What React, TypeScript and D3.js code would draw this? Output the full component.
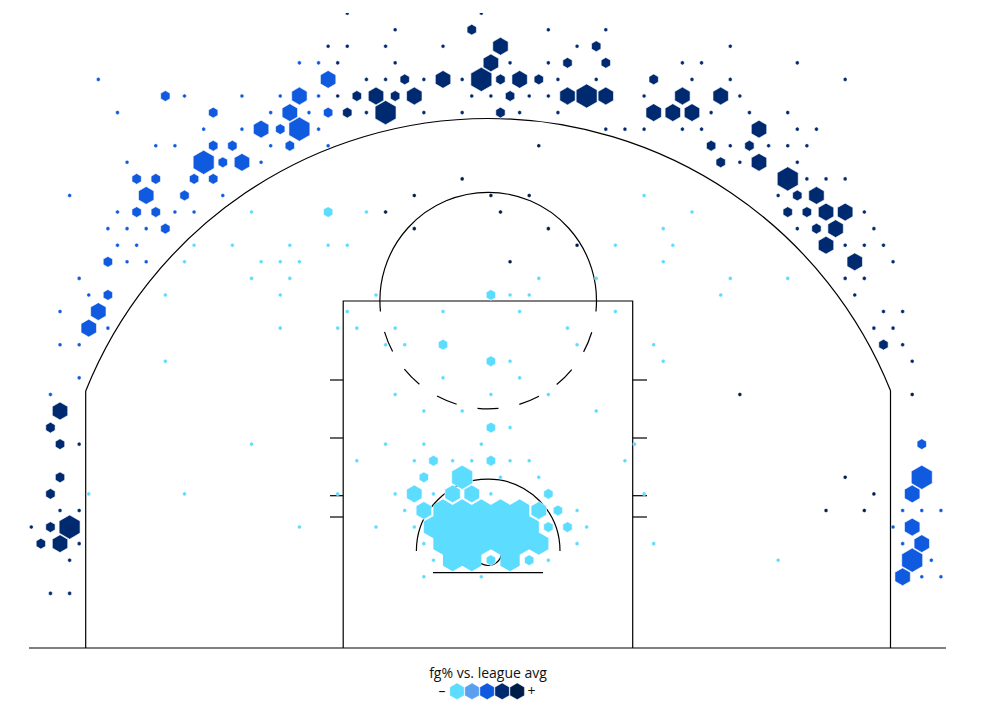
import React from "react";
import * as d3 from "d3";

type Bin = [number, number, number];

// each bin: [row, half-column, size class]
const cyanBlob: Bin[] = [
  [30,-5,5],[30,-3,5],[30,-1,5],[30,1,5],[30,3,5],
  [31,-6,5],[31,-4,5],[31,-2,5],[31,0,5],[31,2,5],[31,4,5],
  [32,-5,5],[32,-3,5],[32,-1,5],[32,1,5],[32,3,5],[32,5,5],
  [33,-4,5],[33,-2,5],[33,2,5],
];
const cyanBins: Bin[] = [
  [11,16,1],
  [12,-25,1],[12,-17,2],[12,-13,1],[12,21,1],
  [13,18,1],
  [14,-31,1],[14,-27,1],[14,-21,1],[14,-17,1],[14,-15,1],[14,13,1],[14,19,1],
  [15,-32,1],[15,-24,1],[15,-22,1],[15,-20,1],[15,18,1],
  [16,-25,1],[16,-21,1],[16,5,1],[16,11,1],[16,25,1],[16,31,1],
  [17,-34,1],[17,-22,1],[17,-12,1],[17,0,2],[17,2,1],[17,4,1],[17,24,1],
  [18,-15,1],[18,-5,1],[18,3,1],[18,13,1],
  [19,-22,1],[19,-16,1],[19,-14,1],[19,-10,1],[19,8,1],
  [20,-11,1],[20,-9,1],[20,-5,2],[20,9,1],[20,17,1],
  [21,-34,1],[21,0,2],[21,2,1],[21,18,1],
  [22,-5,1],[22,3,1],
  [23,-10,1],[23,0,1],[23,6,1],
  [24,-7,1],[24,-3,1],[24,11,1],
  [25,0,2],[25,2,1],
  [26,-25,1],[26,-11,1],[26,-7,1],[26,-1,1],[26,15,1],
  [27,-14,1],[27,-8,1],[27,-6,2],[27,-4,1],[27,-2,1],[27,0,2],[27,2,1],[27,4,1],[27,14,1],
  [28,-7,2],[28,-3,4],[28,1,1],[28,5,1],
  [29,-42,1],[29,-32,1],[29,-16,1],[29,-10,1],[29,-8,3],[29,-6,1],[29,-4,3],[29,-2,3],[29,0,1],[29,6,2],[29,16,1],
  [30,-9,1],[30,-7,3],[30,5,3],[30,7,2],[30,9,1],
  [31,-20,1],[31,-12,1],[31,-8,1],[31,6,2],[31,8,2],[31,10,1],
  [32,-7,1],[32,9,1],[32,17,1],
  [33,-6,1],[33,0,2],[33,4,2],[33,6,1],[33,30,1],
  [34,-7,1],[34,-1,1],
];
const blueBins: Bin[] = [
  [3,-20,1],[3,-18,1],
  [4,-41,1],[4,-17,3],
  [5,-34,2],[5,-32,1],[5,-26,1],[5,-22,1],[5,-20,3],[5,-18,1],
  [6,-39,1],[6,-29,2],[6,-23,1],[6,-21,3],[6,-19,1],[6,-17,2],
  [7,-30,1],[7,-26,1],[7,-24,3],[7,-22,2],[7,-20,4],[7,-18,1],
  [8,-35,1],[8,-33,1],[8,-29,2],[8,-27,2],[8,-23,1],[8,-21,2],[8,-17,1],
  [9,-38,1],[9,-30,4],[9,-28,2],[9,-26,3],[9,-24,1],
  [10,-37,2],[10,-35,2],[10,-31,2],[10,-29,2],
  [11,-44,1],[11,-36,3],[11,-32,2],[11,-28,1],
  [12,-39,1],[12,-37,2],[12,-35,2],[12,-33,1],[12,-31,1],
  [13,-40,1],[13,-38,1],[13,-36,1],[13,-34,2],
  [14,-39,1],[14,-37,1],
  [15,-40,2],[15,-38,1],[15,-36,1],
  [16,-43,1],
  [17,-42,1],[17,-40,2],
  [18,-45,1],[18,-41,3],
  [19,-42,3],[19,-40,1],
  [20,-45,1],[20,-43,1],
  [22,-43,1],
  [23,-46,1],
  [26,45,2],
  [28,45,4],
  [29,44,3],
  [30,43,1],[30,45,1],[30,47,1],
  [31,42,1],[31,44,3],
  [32,43,1],[32,45,3],
  [33,44,4],[33,46,1],
  [34,43,3],[34,45,1],[34,47,1],
];
const navyBins: Bin[] = [
  [0,-15,1],[0,-1,1],
  [1,-10,1],[1,-2,2],[1,6,1],[1,12,1],
  [2,-17,1],[2,-15,1],[2,-11,1],[2,-5,1],[2,1,3],[2,9,1],[2,11,2],[2,25,1],
  [3,-16,1],[3,-10,1],[3,0,3],[3,2,1],[3,6,1],[3,8,2],[3,12,2],[3,20,1],[3,22,1],[3,32,1],
  [4,-13,1],[4,-11,1],[4,-9,2],[4,-7,1],[4,-5,3],[4,-3,1],[4,-1,4],[4,1,2],[4,3,3],[4,5,2],[4,7,1],[4,11,1],[4,17,2],[4,21,1],[4,25,1],[4,37,1],
  [5,-16,1],[5,-14,2],[5,-12,3],[5,-10,2],[5,-8,3],[5,-2,1],[5,0,1],[5,2,2],[5,4,1],[5,6,1],[5,8,3],[5,10,4],[5,12,3],[5,16,1],[5,20,3],[5,24,3],[5,26,1],
  [6,-15,2],[6,-13,1],[6,-11,4],[6,-7,1],[6,-3,1],[6,1,2],[6,3,1],[6,7,1],[6,17,3],[6,19,3],[6,21,3],[6,23,1],[6,27,1],[6,31,1],
  [7,12,1],[7,14,1],[7,16,1],[7,20,1],[7,22,1],[7,28,3],[7,32,1],[7,34,1],
  [8,23,2],[8,25,1],[8,27,2],[8,29,1],[8,31,1],[8,33,1],
  [9,24,2],[9,26,1],[9,28,3],[9,32,1],
  [10,31,4],[10,33,1],[10,35,1],[10,37,1],
  [11,30,1],[11,32,2],[11,34,3],
  [12,31,2],[12,33,2],[12,35,3],[12,37,3],[12,39,1],
  [13,32,1],[13,34,2],[13,36,3],[13,40,1],
  [14,35,3],[14,37,1],[14,39,1],[14,41,1],
  [15,38,3],[15,42,1],
  [16,37,1],[16,39,1],
  [17,38,1],
  [18,41,1],[18,43,1],
  [19,40,1],[19,42,1],
  [20,41,2],[20,43,1],
  [21,44,1],
  [24,-45,3],
  [25,-46,2],
  [26,-45,2],[26,-43,1],
  [28,-45,2],
  [29,-46,2],
  [30,-45,1],[30,-43,1],
  [31,-48,1],[31,-46,2],[31,-44,4],
  [32,-47,2],[32,-45,3],[32,-43,1],
  [33,-44,1],
  [35,-46,1],[35,-44,1],
];
const darkBins: Bin[] = [
  [8,5,1],[10,-3,1],[11,-8,1],[11,0,1],[11,4,1],[12,-11,1],[12,1,1],
  [13,-8,1],[13,6,1],[14,9,1],[15,2,1],[23,26,1],[23,44,1],
  [28,37,1],[29,40,1],[30,35,1],[30,39,1],
];

const legendColors = ["#5cdcff", "#5b9ff0", "#0f5adf", "#002a6f", "#001d48"];
const legendSteps = [0, 1, 2, 3, 4];
const sizeClasses = [1, 2, 3, 4, 5];
const sizeRadii = [2.05, 5.4, 8.9, 12.1, 11.15];
const hashY = [380, 438, 495.7, 517];

const width = 988;
const height = 711;
const xScale = d3.scaleLinear().domain([0, 10]).range([490.9, 586.65]);
const yScale = d3.scaleLinear().domain([0, 34]).range([13.1, 576.8]);
const rScale = d3.scaleOrdinal<number, number>().domain(sizeClasses).range(sizeRadii);
const legendX = d3.scaleLinear().domain([0, 4]).range([457, 517.2]);

function hexPath(cx: number, cy: number, r: number): string {
  const pts = d3.range(6).map((i): [number, number] => [
    cx + r * Math.sin((i * Math.PI) / 3),
    cy - r * Math.cos((i * Math.PI) / 3),
  ]);
  return d3.line().curve(d3.curveLinearClosed)(pts) as string;
}

const cx0 = 488.2;
const rimY = 552;

function arcPath(cx: number, cy: number, r: number, a0: number, a1: number): string {
  const p = d3.path();
  p.arc(cx, cy, r, a0, a1, false);
  return p.toString();
}
const deg = Math.PI / 180;

const threeStart = Math.atan2(391 - rimY, 85.7 - cx0);
const threeEnd = Math.atan2(391 - rimY, 890.5 - cx0);

function Hexes({ data, color }: { data: Bin[]; color: string }) {
  const sorted = [...data].sort((a, b) => d3.ascending(a[2], b[2]));
  return (
    <g>
      {sorted.map(([row, q, s]) => (
        <path
          key={`${row}_${q}`}
          d={hexPath(xScale(q), yScale(row), rScale(s))}
          fill={color}
          stroke="#fff"
          strokeWidth={s === 1 ? 0.4 : 0.8}
          strokeOpacity={0.75}
        />
      ))}
    </g>
  );
}

export default function App() {
  const line = { fill: "none", stroke: "#000", strokeWidth: 1.2 };
  const ftY = 300.6;
  const ftR = 108.3;
  const blobPath = cyanBlob
    .map(([row, q, s]) => hexPath(xScale(q), yScale(row), rScale(s)))
    .join("");
  return (
    <svg
      width={width}
      height={height}
      style={{ position: "absolute", left: 0, top: 0, display: "block", background: "#fff" }}
      fontFamily="'Open Sans', sans-serif"
    >
      <defs>
        <clipPath id="plot">
          <rect x={0} y={12.9} width={width} height={height} />
        </clipPath>
      </defs>
      <g {...line}>
        <line x1={29} x2={946} y1={648} y2={648} />
        <path d={`M85.7,648V391`} />
        <path d={`M890.5,648V391`} />
        <path d={arcPath(cx0, rimY, 433.5, threeStart, threeEnd)} />
        <path d={`M343.2,648V301H632.7V648`} />
        {hashY.map((y) => (
          <g key={y}>
            <line x1={330} x2={343.2} y1={y} y2={y} />
            <line x1={632.7} x2={647} y1={y} y2={y} />
          </g>
        ))}
        <path d={arcPath(cx0, ftY, ftR, 180 * deg + -5.8 * deg, 360 * deg + 5.8 * deg)} />
        <path
          d={arcPath(cx0, ftY, ftR, 5.8 * deg, 174.2 * deg)}
          strokeDasharray="21.22 21.22"
          strokeDashoffset={21.22}
        />
        <path d={arcPath(cx0, 551, 71.8, 180 * deg, 360 * deg)} />
        <line x1={433} x2={543} y1={572.7} y2={572.7} />
        <circle cx={cx0} cy={rimY} r={13.5} />
      </g>
      <g clipPath="url(#plot)">
        <path d={blobPath} fill={legendColors[0]} fillRule="nonzero" />
        <Hexes data={cyanBins} color={legendColors[0]} />
        <Hexes data={blueBins} color={legendColors[2]} />
        <Hexes data={navyBins} color={legendColors[3]} />
        <Hexes data={darkBins} color={legendColors[4]} />
      </g>
      <text x={488} y={678} textAnchor="middle" fontSize={14} fill="#111">
        fg% vs. league avg
      </text>
      <text x={442} y={696} textAnchor="middle" fontSize={14} fill="#111">
        –
      </text>
      <text x={531.5} y={696} textAnchor="middle" fontSize={14} fill="#111">
        +
      </text>
      {legendSteps.map((i) => (
        <path
          key={i}
          d={hexPath(legendX(i), 691.3, 8.3)}
          fill={legendColors[i]}
          stroke="#fff"
          strokeWidth={0.6}
          strokeOpacity={0.6}
        />
      ))}
    </svg>
  );
}
